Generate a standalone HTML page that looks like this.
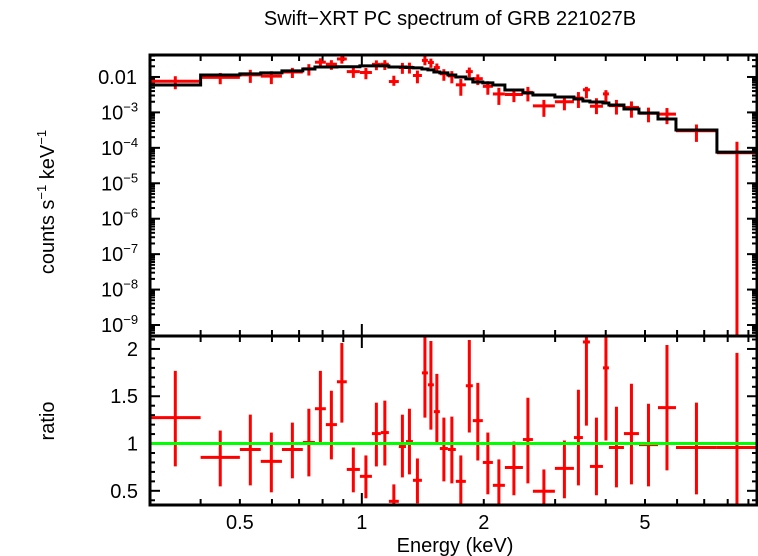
<!DOCTYPE html>
<html><head><meta charset="utf-8"><style>
body{margin:0;background:#fff}
svg{display:block;font-family:"Liberation Sans",sans-serif}
</style></head><body>
<svg id="c" width="758" height="556" viewBox="0 0 758 556"></svg>
<script>
// Bin edges (keV)
const edges=[0.30,0.40,0.50,0.563,0.635,0.715,0.766,0.815,0.868,0.918,0.989,1.059,1.114,1.166,1.234,1.285,1.337,1.407,1.456,1.506,1.558,1.631,1.706,1.806,1.879,1.989,2.106,2.255,2.498,2.644,2.996,3.338,3.513,3.656,3.937,4.073,4.436,4.831,5.383,5.962,7.525,9.45];
// Model counts per bin (counts/s/keV)
const model=[5.94e-3,1.14e-2,1.22e-2,1.30e-2,1.48e-2,1.68e-2,1.91e-2,1.91e-2,1.95e-2,1.95e-2,2.05e-2,2.05e-2,2.05e-2,1.91e-2,1.91e-2,1.85e-2,1.80e-2,1.68e-2,1.58e-2,1.38e-2,1.30e-2,1.14e-2,1.0e-2,8.8e-3,7.2e-3,6.8e-3,5.94e-3,4.30e-3,3.53e-3,3.10e-3,2.72e-3,2.39e-3,2.10e-3,1.97e-3,1.85e-3,1.62e-3,1.25e-3,9.6e-4,6.5e-4,3.18e-4,7.6e-5];
// Data/model ratio and error bounds
const ratio=[1.274,0.853,0.937,0.811,0.937,1.011,1.368,1.2,1.653,0.726,0.653,1.105,1.116,0.389,0.968,1.021,0.611,1.747,1.621,1.337,0.947,0.937,0.6,1.611,1.242,0.8,0.558,0.747,1.042,0.495,0.737,1.063,2.074,0.758,1.8,0.958,1.105,0.989,1.379,0.958,0.958];
const ratioHi=[1.768,1.137,1.305,1.116,1.221,1.368,1.768,1.558,2.063,0.958,0.874,1.432,1.453,0.568,1.305,1.368,0.842,2.295,2.084,1.737,1.274,1.284,0.874,2.095,1.642,1.116,0.832,1.021,1.484,0.726,1.032,1.568,2.505,1.274,2.295,1.389,1.632,1.421,2.042,1.432,1.958];
const ratioLo=[0.758,0.547,0.558,0.484,0.632,0.653,1.0,0.832,1.221,0.484,0.421,0.758,0.768,0.295,0.642,0.674,0.368,1.274,1.147,0.989,0.6,0.579,0.295,1.116,0.821,0.463,0.274,0.453,0.579,0.242,0.421,0.558,1.189,0.453,1.032,0.537,0.568,0.547,0.716,0.463,-0.2];
const yTopTicks=["0.01","10","10","10","10","10","10","10"];
const yTopExp=["","−3","−4","−5","−6","−7","−8","−9"];
const yBotTicks=[0.5,1,1.5,2];
const xTickLabels=[0.5,1,2,5];

const NS="http://www.w3.org/2000/svg";
const svg=document.getElementById('c');
const L=150,R=757,T1=55,B1=336,T2=336,B2=505;
const xmin=0.3,xmax=9.45;
const X=e=>L+(Math.log10(e)-Math.log10(xmin))/(Math.log10(xmax)-Math.log10(xmin))*(R-L);
const lt=-1.38,lb=-9.31;
const Y1=f=>T1+(lt-Math.log10(f))/(lt-lb)*(B1-T1);
const rt=2.137,rb=0.35;
const Y2=r=>T2+(rt-r)/(rt-rb)*(B2-T2);
function el(tag,attrs,parent){const e=document.createElementNS(NS,tag);for(const k in attrs)e.setAttribute(k,attrs[k]);(parent||svg).appendChild(e);return e;}
const clip1=el('clipPath',{id:'cp1'});el('rect',{x:L,y:T1,width:R-L,height:B1-T1},clip1);
const clip2=el('clipPath',{id:'cp2'});el('rect',{x:L,y:T2,width:R-L,height:B2-T2},clip2);
const FS=20;

let t=el('text',{x:450,y:25,'font-size':FS,'text-anchor':'middle'});t.textContent='Swift−XRT PC spectrum of GRB 221027B';


t=el('text',{x:455,y:552,'font-size':FS,'text-anchor':'middle'});t.textContent='Energy (keV)';


t=el('text',{x:0,y:0,'font-size':FS,'text-anchor':'middle',transform:'translate(54,202) rotate(-90)'});
t.innerHTML='counts s<tspan dy="-8" font-size="13">−1</tspan><tspan dy="8"> keV</tspan><tspan dy="-8" font-size="13">−1</tspan>';


t=el('text',{x:0,y:0,'font-size':FS,'text-anchor':'middle',transform:'translate(54,421) rotate(-90)'});t.textContent='ratio';



yTopTicks.forEach((s,i)=>{const y=Y1(Math.pow(10,-2-i));
 const tx=el('text',{x:i==0?137:122,y:y+7,'font-size':FS,'text-anchor':'end'});
 
 
 if(i==0)tx.textContent=s;else{tx.setAttribute('text-anchor','start');tx.setAttribute('x',101);tx.innerHTML=s+'<tspan dy="-8" font-size="13">'+yTopExp[i]+'</tspan>';}});
yBotTicks.forEach(v=>{const tx=el('text',{x:138,y:Y2(v)+7,'font-size':FS,'text-anchor':'end'});tx.textContent=String(v);
 
 });
xTickLabels.forEach(v=>{const tx=el('text',{x:X(v),y:529,'font-size':FS,'text-anchor':'middle'});tx.textContent=String(v);
 
 });

const tk=el('g',{stroke:'#000','stroke-width':2});


const xt=[0.3,0.4,0.5,0.6,0.7,0.8,0.9,1,2,3,4,5,6,7,8,9];
xt.forEach(v=>{const x=X(v);const big=(v==1)?12:6;
 [[T1,1],[B1,-1],[T2,1],[B2,-1]].forEach(([y,d])=>el('line',{x1:x,x2:x,y1:y,y2:y+d*big},tk));});
for(let d=-2;d>=-10;d--){for(let m=1;m<10;m++){const f=m*Math.pow(10,d);const lf=Math.log10(f);if(lf>lt||lf<lb)continue;const y=Y1(f);const len=m==1?10:5;
 el('line',{x1:L,x2:L+len,y1:y,y2:y},tk);el('line',{x1:R,x2:R-len,y1:y,y2:y},tk);}}
for(let r=0.4;r<=2.11;r+=0.1){const y=Y2(r);const maj=Math.abs(r*2-Math.round(r*2))<0.01;const len=maj?10:5;
 el('line',{x1:L,x2:L+len,y1:y,y2:y},tk);el('line',{x1:R,x2:R-len,y1:y,y2:y},tk);}

const gTop=el('g',{stroke:'#f00','stroke-width':3,'clip-path':'url(#cp1)'});


const gBot=el('g',{stroke:'#f00','stroke-width':3,'clip-path':'url(#cp2)'});


const gl=el('line',{x1:L,x2:R,y1:Y2(1),y2:Y2(1),stroke:'#0f0','stroke-width':3});


ratio.forEach((r,i)=>{
 const e0=edges[i],e1=edges[i+1];const xc=X(Math.sqrt(e0*e1));
 const m=model[i];
 const yv=Y1(m*r),yh=Y1(m*ratioHi[i]),yl=ratioLo[i]>0?Y1(m*ratioLo[i]):B1+5;
 const g1=el('g',{},gTop);
 
 
 el('line',{x1:X(e0),x2:X(e1),y1:yv,y2:yv},g1);el('line',{x1:xc,x2:xc,y1:yh,y2:yl},g1);
 const g2=el('g',{},gBot);
 
 
 const ry=Y2(r);
 el('line',{x1:X(e0),x2:X(e1),y1:ry,y2:ry},g2);el('line',{x1:xc,x2:xc,y1:Y2(ratioHi[i]),y2:Y2(ratioLo[i])},g2);
});

let d='';model.forEach((m,i)=>{const y=Y1(m);d+=(i==0?'M':'L')+X(edges[i])+','+y+'L'+X(edges[i+1])+','+y;});
const ml=el('path',{d:d,fill:'none',stroke:'#000','stroke-width':3,'clip-path':'url(#cp1)'});



const f1=el('rect',{x:L,y:T1,width:R-L,height:B1-T1,fill:'none',stroke:'#000','stroke-width':3});


const f2=el('rect',{x:L,y:T2,width:R-L,height:B2-T2,fill:'none',stroke:'#000','stroke-width':3});


</script>
</body></html>
